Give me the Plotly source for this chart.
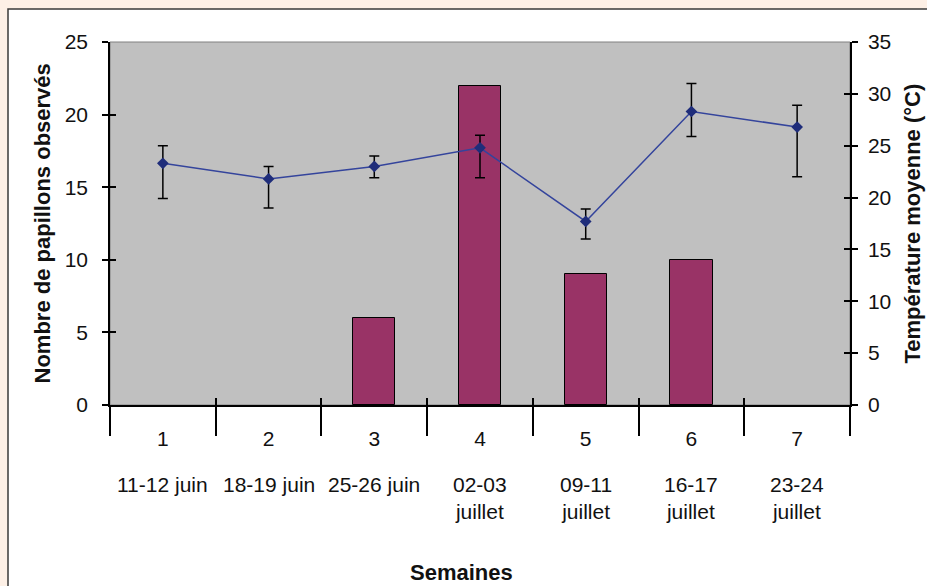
import plotly.graph_objects as go

# ---- data ----
weeks = ["1", "2", "3", "4", "5", "6", "7"]
dates = ["11-12 juin", "18-19 juin", "25-26 juin", "02-03\njuillet",
         "09-11\njuillet", "16-17\njuillet", "23-24\njuillet"]
papillons = [0, 0, 6, 22, 9, 10, 0]
temperature = [23.3, 21.8, 23.0, 24.8, 17.7, 28.3, 26.8]
err_plus = [1.7, 1.2, 1.0, 1.2, 1.2, 2.7, 2.1]
err_minus = [3.4, 2.8, 1.1, 2.9, 1.7, 2.4, 4.8]

W, H = 927, 586
L, R, T, B = 110, 77, 42, 181
FONT = "Liberation Sans, Arial, sans-serif"
xs = list(range(1, len(weeks) + 1))
xr = [0.5, len(weeks) + 0.5]
bounds = [i + 0.5 for i in range(0, len(weeks) + 1)]

fig = go.Figure()
fig.add_trace(go.Bar(x=xs, y=[v if v else None for v in papillons], width=0.4,
                     marker=dict(color="#993366", line=dict(color="black", width=1)),
                     yaxis="y", xaxis="x", showlegend=False, hoverinfo="skip"))
fig.add_trace(go.Scatter(x=xs, y=temperature, yaxis="y2", xaxis="x", mode="lines+markers",
                         line=dict(color="#34449C", width=1.5),
                         marker=dict(symbol="diamond", size=9, color="#1F2D7A"),
                         error_y=dict(type="data", symmetric=False, array=err_plus,
                                      arrayminus=err_minus, color="black",
                                      thickness=1.5, width=5),
                         showlegend=False))
# invisible helper traces so that the tick-only overlay axes get drawn
for xa, ya in [("x2", "y"), ("x3", "y"), ("x", "y3"), ("x", "y4")]:
    fig.add_trace(go.Scatter(x=xs, y=papillons, xaxis=xa, yaxis=ya, mode="markers",
                             marker=dict(opacity=0), hoverinfo="skip", showlegend=False))

tickfont = dict(family=FONT, size=21, color="#111111")
axline = dict(showline=True, linecolor="black", linewidth=1.5, showgrid=False, zeroline=False)
noline = dict(showticklabels=False, showline=False, showgrid=False, zeroline=False,
              tickwidth=1.5, tickcolor="black")

fig.update_layout(
    width=W, height=H,
    margin=dict(l=L, r=R, t=T, b=B, pad=0),
    paper_bgcolor="#FDF0E6",
    plot_bgcolor="rgba(0,0,0,0)",
    bargap=0,
    xaxis=dict(range=xr, tickvals=xs, ticktext=weeks, ticks="", tickfont=tickfont,
               ticklabelstandoff=14, **axline),
    xaxis2=dict(overlaying="x", anchor="y", side="bottom", range=xr, tickvals=bounds,
                ticks="outside", ticklen=30, **noline),
    xaxis3=dict(overlaying="x", anchor="y", side="bottom", range=xr, tickvals=bounds,
                ticks="inside", ticklen=7, **noline),
    yaxis=dict(range=[0, 25], dtick=5, ticks="outside", ticklen=6, tickwidth=1.5,
               tickcolor="black", tickfont=tickfont, ticklabelstandoff=10, **axline),
    yaxis2=dict(overlaying="y", side="right", anchor="x", range=[0, 35], dtick=5,
                ticks="outside", ticklen=6, tickwidth=1.5, tickcolor="black",
                tickfont=tickfont, ticklabelstandoff=6, **axline),
    yaxis3=dict(overlaying="y", side="left", anchor="x", range=[0, 25], dtick=5,
                ticks="inside", ticklen=6, **noline),
    yaxis4=dict(overlaying="y", side="right", anchor="x", range=[0, 35], dtick=5,
                ticks="inside", ticklen=6, **noline),
)

pw = W - L - R
ph = H - T - B
def px_x(p):
    return (p - L) / pw
def px_y(p):
    return 1 - (p - T) / ph

shapes = [
    dict(type="rect", xref="paper", yref="paper", x0=px_x(8), x1=px_x(W + 20),
         y0=px_y(H + 20), y1=px_y(9), fillcolor="white",
         line=dict(color="#3A3A3A", width=1.5), layer="below"),
    dict(type="rect", xref="paper", yref="paper", x0=0, x1=1, y0=0, y1=1,
         fillcolor="#C0C0C0", line=dict(color="#808080", width=1), layer="below"),
]
fig.update_layout(shapes=shapes)

ann = []
for x, d in zip(xs, dates):
    ann.append(dict(x=x, xref="x", y=0, yref="paper", yanchor="top", xanchor="center",
                    yshift=-66, text=d.replace("\n", "<br>"), showarrow=False,
                    font=tickfont, align="center"))
titlefont = dict(family=FONT, size=22, color="#111111", weight="bold")
ann.append(dict(x=0.5, xref="paper", y=0, yref="paper", xshift=-19, yshift=-167,
                xanchor="center", yanchor="middle", text="<b>Semaines</b>",
                showarrow=False, font=titlefont))
ann.append(dict(x=0, xref="paper", y=0.5, yref="paper", xshift=-68, xanchor="center",
                yanchor="middle", textangle=-90, text="<b>Nombre de papillons observés</b>",
                showarrow=False, font=titlefont))
ann.append(dict(x=1, xref="paper", y=0.5, yref="paper", xshift=62, xanchor="center",
                yanchor="middle", textangle=-90, text="<b>Température moyenne (°C)</b>",
                showarrow=False, font=titlefont))
fig.update_layout(annotations=ann)

fig.write_html("out.html")
